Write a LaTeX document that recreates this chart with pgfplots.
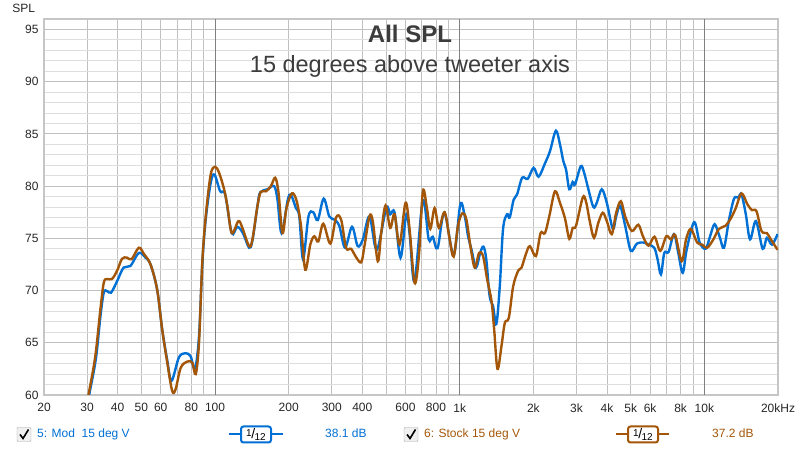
\documentclass[border=0pt]{standalone}
\usepackage{fontspec}
\setmainfont{Liberation Sans}
\usepackage{pgfplots}
\pgfplotsset{compat=1.18}
\definecolor{modblue}{RGB}{0,112,212}
\definecolor{stockbrown}{RGB}{163,86,8}
\definecolor{gridminor}{RGB}{222,222,222}
\definecolor{gridmajor}{RGB}{192,192,192}
\definecolor{griddecade}{RGB}{128,128,128}
\definecolor{titlegray}{RGB}{60,60,60}
\newcommand{\filt}{\raisebox{1.5pt}{\fontsize{10}{10}\selectfont 1}\kern-0.5pt{\fontsize{14}{14}\selectfont /}\kern-0.5pt\raisebox{-2.5pt}{\fontsize{10}{10}\selectfont 12}}
\begin{document}
\begin{tikzpicture}[x=1pt,y=1pt]
\useasboundingbox (0,0) rectangle (800,449);
\begin{axis}[
  at={(44pt,54pt)}, anchor=south west,
  scale only axis, width=734pt, height=376pt,
  xmode=log, xmin=20, xmax=20000, ymin=60, ymax=96,
  xtick={20,30,40,50,60,80,200,300,400,600,800,2000,3000,4000,5000,6000,8000,20000},
  xticklabels={20,30,40,50,60,80,200,300,400,600,800,2k,3k,4k,5k,6k,8k,20kHz},
  minor xtick={70,90,500,700,900,7000,9000},
  extra x ticks={100,1000,10000},
  extra x tick labels={100,1k,10k},
  extra x tick style={major x grid style={griddecade, line width=0.8pt}},
  ytick={60,65,70,75,80,85,90,95},
  yticklabels={60,65,70,75,80,85,90,95},
  minor ytick={61,62,63,64,66,67,68,69,71,72,73,74,76,77,78,79,81,82,83,84,86,87,88,89,91,92,93,94,96},
  xmajorgrids, xminorgrids, ymajorgrids, yminorgrids,
  major x grid style={gridmajor, line width=0.8pt},
  minor x grid style={gridmajor, line width=0.8pt},
  major y grid style={gridmajor, line width=0.8pt},
  minor y grid style={gridminor, line width=0.8pt},
  major tick length=0pt, minor tick length=0pt,
  axis line style={draw=gray!45, line width=2.5pt},
  tick label style={font=\fontsize{12}{14}\selectfont, text=black!85},
  /pgf/number format/assume math mode=true,
  yticklabel style={xshift=-2pt},
  xticklabel style={yshift=-5pt},
]
% 5: Mod 15 deg V
\addplot[modblue, line width=2.4pt, smooth, tension=0.55] coordinates {
(29.7,58.5) (30.7,60.2) (32.6,63.5) (34.0,67.5) (35.1,69.8) (36.2,69.95) (37.6,69.8)
(39.8,70.9) (42.3,72.2) (45.1,72.35) (48.8,73.6) (52.0,73.15) (54.5,72.5) (58.0,70.1)
(60.8,66.3) (63.8,63.3) (66.4,61.35) (71.2,63.6) (75.8,64.0) (79.5,63.7) (82.8,62.5)
(86.0,65.6) (88.7,72.5) (91.6,76.8) (96.0,80.3) (99.5,81.1) (105,79.5) (110,79.2)
(117,75.5) (123.3,76.1) (130,75.5) (137.8,74.1) (142.2,74.8) (149.1,78.1) (153,79.4)
(164,79.7) (174.4,80.0) (180,78.7) (187,75.5) (198,78.6) (204,79.2) (214,77.9)
(221,77.1) (229,73.0) (241,77.1) (252,77.5) (263,76.75) (278,78.8) (293,77.1)
(307,76.8) (322,76.2) (340,74.1) (363,76.1) (383,74.25) (402,74.9) (428,77.1)
(458,73.9) (501,77.9) (520,77.3) (542,77.45) (573,73.15) (605,77.3) (625,75.3)
(654,70.9) (707,78.6) (747,74.9) (776,75.15) (812,74.05) (866,77.45) (944,73.4)
(1006,78.25) (1049,77.1) (1082,75.2) (1118,73.9) (1166,72.2) (1212,73.6) (1250,74.2)
(1284,73.0) (1325,69.5) (1369,68.5) (1412,66.8) (1458,70.4) (1504,75.9) (1562,77.3)
(1601,77.0) (1662,78.7) (1716,79.2) (1800,80.8) (1897,80.7) (2005,81.75) (2101,80.9)
(2233,82.2) (2339,83.35) (2472,85.3) (2569,84.0) (2651,82.4) (2720,81.6) (2805,79.7)
(2896,80.4) (2960,80.15) (3124,81.9) (3223,81.3) (3357,79.7) (3518,78.0) (3633,78.4)
(3808,79.7) (3993,78.4) (4226,75.9) (4360,77.1) (4527,78.1) (4746,76.2) (5006,73.8)
(5300,74.5) (5640,74.6) (5909,74.4) (6239,74.1) (6437,73.0) (6646,71.55) (6857,73.6)
(7142,73.7) (7514,75.4) (7824,73.6) (8158,71.7) (8472,73.95) (9086,76.55) (9565,74.6)
(10123,74.0) (10553,75.2) (11015,76.35) (11545,75.15) (12025,74.1) (12615,76.8)
(13223,78.8) (13742,78.9) (14187,79.2) (14772,77.3) (15376,74.9) (16243,76.65)
(17305,74.0) (18014,75.05) (18896,74.4) (19915,75.4)
};
% 6: Stock 15 deg V
\addplot[stockbrown, line width=2.4pt, smooth, tension=0.55] coordinates {
(29.5,58.5) (30.5,60.2) (32.4,63.7) (34.0,68.2) (35.1,70.75) (36.2,71.1) (37.9,71.1)
(39.8,71.9) (41.7,73.05) (43.7,73.15) (45.6,73.0) (48.8,74.1) (51.2,73.5) (54.5,72.5)
(58.0,70.1) (60.8,66.3) (63.8,63.1) (66.8,60.4) (69.0,60.55) (72.4,62.6) (77.0,63.2)
(80.7,63.1) (83.4,62.0) (86.0,65.0) (88.7,72.7) (91.6,77.1) (96.0,81.1) (100,81.85)
(103.8,81.3) (108.9,79.7) (112.3,78.1) (117.1,75.5) (124.6,76.65) (129.4,76.0)
(137.8,74.25) (142.2,74.9) (149.1,78.1) (153.9,79.45) (161.4,79.5) (169.2,80.0)
(176.2,80.8) (181.7,79.4) (188.7,75.5) (196.0,77.9) (206.2,79.3) (215.4,78.6)
(224.5,76.2) (233.8,72.0) (245.1,74.4) (254.5,75.2) (264.3,74.7) (277.1,76.4)
(296.0,74.5) (312.4,77.0) (327.5,76.8) (343.3,74.1) (359.9,74.0) (374.8,73.3)
(395.5,72.7) (408,74.25) (427.7,77.1) (441.3,76.65) (462.7,72.8) (477.7,75.5)
(497.5,78.15) (520,76.0) (541.6,77.3) (567.7,74.4) (600.7,78.4) (623.8,75.9)
(654,70.75) (681.1,73.3) (707.3,79.5) (734.5,77.9) (758.4,75.9) (789.8,77.9)
(822.5,76.0) (868,77.5) (910,74.9) (944.9,73.25) (984,76.2) (1026,77.4) (1065,76.8)
(1106,74.25) (1152,72.2) (1200,73.6) (1246,73.3) (1294,71.1) (1349,69.0) (1383,66.3)
(1427,62.5) (1482,64.7) (1529,66.9) (1588,67.4) (1654,70.4) (1734,71.9) (1790,72.2)
(1865,73.5) (1936,74.25) (2048,73.3) (2141,75.5) (2231,75.5) (2323,77.1) (2451,79.5)
(2569,78.4) (2694,76.9) (2805,74.95) (2896,76.0) (2988,76.2) (3183,78.9) (3284,78.5)
(3410,76.5) (3541,75.05) (3688,76.5) (3845,77.45) (3993,76.65) (4184,75.4) (4360,77.45)
(4558,78.55) (4746,77.1) (5053,75.7) (5373,76.3) (5609,75.2) (5909,74.3) (6257,75.15)
(6602,73.8) (6990,75.2) (7303,74.9) (7604,75.3) (8079,72.8) (8416,74.9) (8806,75.9)
(9339,74.6) (9790,74.4) (10270,74.1) (10885,74.9) (11470,75.9) (12200,76.2)
(12820,76.9) (13440,77.9) (14187,79.3) (15000,78.25) (15650,77.7) (16330,77.6)
(17125,75.7) (18014,75.5) (18640,74.95) (19915,73.9)
};
\end{axis}
% axis name and titles
\node[anchor=base east, font=\fontsize{12}{14}\selectfont, text=black!85] at (38.5,436.3) {SPL};
\node[anchor=base, font=\fontsize{24}{28}\selectfont\bfseries, text=titlegray] at (410,406.7) {All SPL};
\node[anchor=base, font=\fontsize{23.5}{27}\selectfont, text=titlegray] at (410,376.3) {15 degrees above tweeter axis};
% legend row, series 5
\draw[gray!70, fill=gray!12, rounded corners=1pt] (17,7.5) rectangle (31,21.5);
\draw[black, line width=1.6pt] (20,14.5) -- (23,10.5) -- (28.5,19.5);
\node[anchor=base west, inner sep=0pt, font=\fontsize{12}{14}\selectfont, text=modblue] at (37,11) {5: Mod\ \ 15 deg V};
\draw[modblue, line width=2pt] (229,14.5) -- (283,14.5);
\draw[modblue, line width=2pt, fill=white, rounded corners=2.5pt] (241,6.5) rectangle (271,22.5);
\node[inner sep=0pt, text=black] at (256,14.5) {\filt};
\node[anchor=base west, inner sep=0pt, font=\fontsize{12}{14}\selectfont, text=modblue] at (325,11) {38.1 dB};
% legend row, series 6
\draw[gray!70, fill=gray!12, rounded corners=1pt] (404,7.5) rectangle (418,21.5);
\draw[black, line width=1.6pt] (407,14.5) -- (410,10.5) -- (415.5,19.5);
\node[anchor=base west, inner sep=0pt, font=\fontsize{12}{14}\selectfont, text=stockbrown] at (424,11) {6: Stock 15 deg V};
\draw[stockbrown, line width=2pt] (616,14.5) -- (669,14.5);
\draw[stockbrown, line width=2pt, fill=white, rounded corners=2.5pt] (628,6.5) rectangle (658,22.5);
\node[inner sep=0pt, text=black] at (643,14.5) {\filt};
\node[anchor=base west, inner sep=0pt, font=\fontsize{12}{14}\selectfont, text=stockbrown] at (712,11) {37.2 dB};
\end{tikzpicture}
\end{document}
